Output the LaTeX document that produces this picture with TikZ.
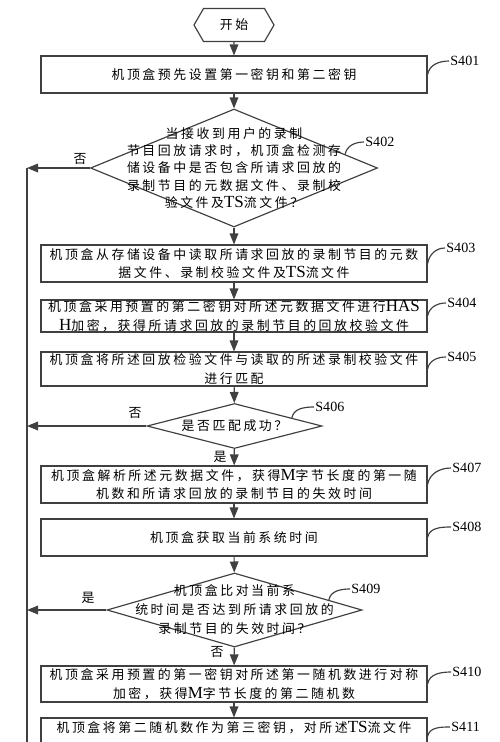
\documentclass[tikz,border=0pt]{standalone}
\usepackage{fontspec}
\setmainfont{Liberation Serif}
\newfontfamily\cjk[LetterSpace=20]{Noto Sans CJK SC}
\usetikzlibrary{shapes.geometric,shapes.symbols,arrows.meta}
\newcommand\lat[1]{{\rmfamily\fontsize{14.5}{16}\selectfont#1}}
\tikzset{
  line/.style={draw=black!75,line width=1pt},
  box/.style={line,minimum width=11.58cm,align=center,inner sep=0pt,
    font=\cjk\fontsize{11}{16}\selectfont},
  dec/.style={line,shape=diamond,inner sep=0pt},
  word/.style={align=center,inner sep=0pt,font=\cjk\fontsize{11}{15}\selectfont},
  tag/.style={anchor=west,inner sep=1pt,font=\fontsize{12}{12}\selectfont},
  arr/.style={line,-{Triangle[length=3.3mm,width=2.6mm]}}
}
\begin{document}
\begin{tikzpicture}[x=.03cm,y=-.03cm]
\useasboundingbox (0,0) rectangle (500,742);
\clip (0,0) rectangle (500,742);
\node[line,shape=signal,signal to=east and west,signal pointer angle=120,
  minimum width=2.4cm,minimum height=.99cm,font=\cjk\fontsize{11}{11}\selectfont]
  (start) at (234,25) {开始};
\node[box,minimum height=1.11cm] (s401) at (234,74.5) {机顶盒预先设置第一密钥和第二密钥};
\node[dec,minimum width=8.61cm,minimum height=3.54cm] (s402) at (234,168) {};
\node[word,font=\cjk\fontsize{11}{14.9}\selectfont] (q402) at (s402)
  {当接收到用户的录制\\节目回放请求时，机顶盒检测存\\储设备中是否包含所请求回放的\\录制节目的元数据文件、录制校\\验文件及\lat{TS}流文件？};
\node[box,minimum height=1.11cm] (s403) at (234,263.5)
  {机顶盒从存储设备中读取所请求回放的录制节目的元数\\据文件、录制校验文件及\lat{TS}流文件};
\node[box,minimum height=.96cm] (s404) at (234,316)
  {机顶盒采用预置的第二密钥对所述元数据文件进行\lat{HAS}\\\lat{H}加密，获得所请求回放的录制节目的回放校验文件};
\node[box,minimum height=1.02cm] (s405) at (234,369)
  {机顶盒将所述回放检验文件与读取的所述录制校验文件\\进行匹配};
\node[dec,minimum width=5.25cm,minimum height=1.35cm] (s406) at (234.5,426) {};
\node[word] (q406) at (s406) {是否匹配成功？};
\node[box,minimum height=1.11cm] (s407) at (234,484.5)
  {机顶盒解析所述元数据文件，获得\lat{M}字节长度的第一随\\机数和所请求回放的录制节目的失效时间};
\node[box,minimum height=1.11cm] (s408) at (234,537.5) {机顶盒获取当前系统时间};
\node[dec,minimum width=7.65cm,minimum height=2.22cm] (s409) at (234.5,610) {};
\node[word,font=\cjk\fontsize{11}{16.2}\selectfont] (q409) at (s409)
  {机顶盒比对当前系\\统时间是否达到所请求回放的\\录制节目的失效时间？};
\node[box,minimum height=1.08cm] (s410) at (234,684)
  {机顶盒采用预置的第一密钥对所述第一随机数进行对称\\加密，获得\lat{M}字节长度的第二随机数};
\node[box,minimum height=1.11cm] (s411) at (234,736.5)
  {机顶盒将第二随机数作为第三密钥，对所述\lat{TS}流文件\\\mbox{}};
% main flow
\foreach \a/\b in {start/s401,s401/s402,s402/s403,s403/s404,s404/s405,
  s405/s406,s406/s407,s407/s408,s408/s409,s409/s410,s410/s411}
  \draw[arr] (\a) -- (\b);
% return rail on the left
\coordinate (rail) at (27,168);
\coordinate (railend) at (27,760);
\draw[line] (rail) -- (railend);
\foreach \d in {s402,s406,s409}
  \draw[arr] (\d.west) -- (\d.west -| rail);
\node[word] (n402) at (80,159) {否};
\node[word] (n406) at (135,413) {否};
\node[word] (y406) at (220,457) {是};
\node[word] (y409) at (88,598) {是};
\node[word] (n409) at (217,652) {否};
% step tags
\foreach \n/\p/\x/\y in {401/s401.east/449/61, 402/s402.7/364/142,
  403/s403.east/445/248, 404/s404.east/446/303, 405/s405.east/446/357,
  406/s406.8/314/407, 407/s407.east/451/468, 408/s408.east/451/527,
  409/s409.6/350/589, 410/s410.east/451/672, 411/s411.east/450/727}{
  \node[tag] (t\n) at (\x,\y) {S\n};
  \draw[line] (\p) to[out=80,in=180] (t\n.west);
}
\end{tikzpicture}
\end{document}
